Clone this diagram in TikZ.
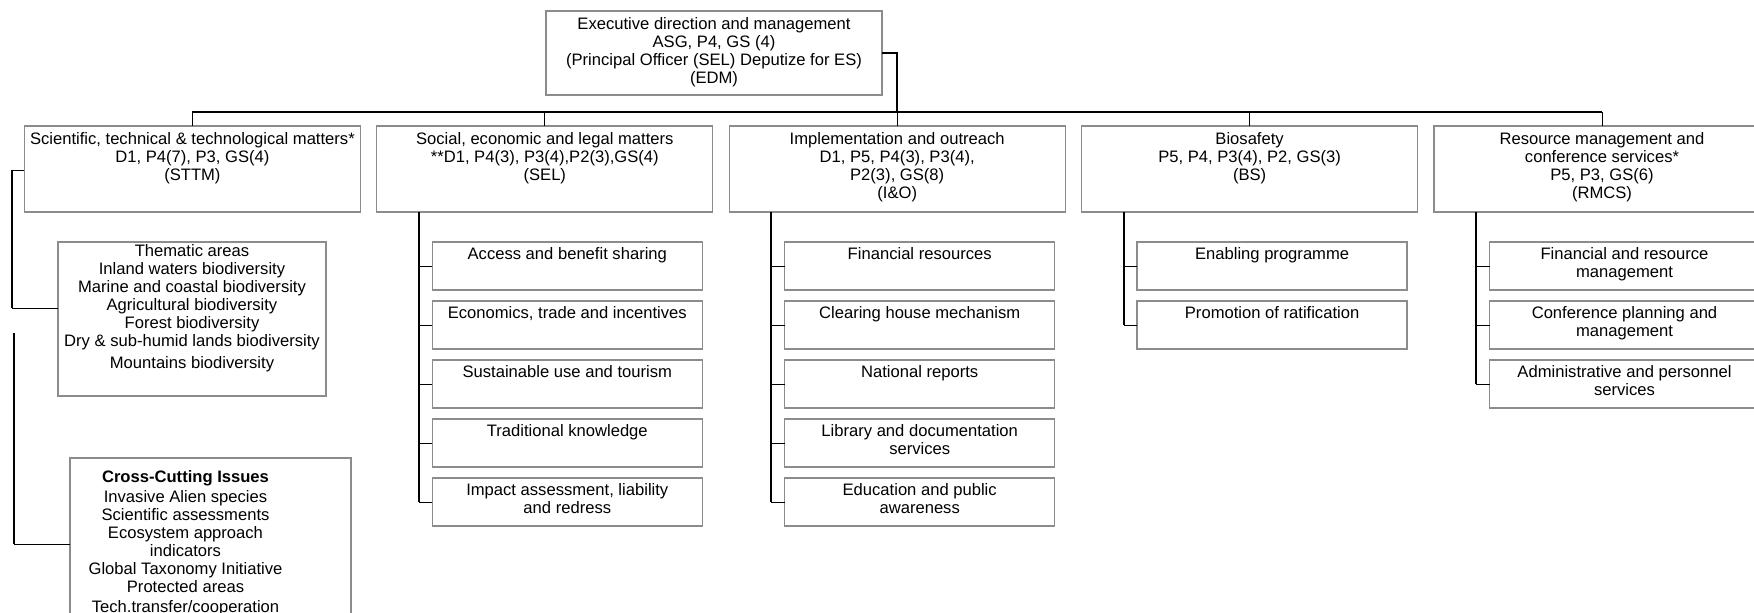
\documentclass[tikz,border=0pt]{standalone}
\usepackage{fontspec}
\setmainfont{Liberation Sans}
\definecolor{bordergray}{RGB}{140,140,140}
\newcommand{\boxtxt}[4]{\parbox[c][#2][t]{#1}{\centering\rule{0pt}{#3}#4\par}}
\newcommand{\lvtwo}[1]{\boxtxt{168pt}{43pt}{9.35pt}{#1}}
\newcommand{\subtxt}[1]{\boxtxt{135pt}{24pt}{8.95pt}{#1}}
\begin{document}
\begin{tikzpicture}[x=0.5pt,y=-0.5pt,
  font=\fontsize{8.3pt}{9pt}\selectfont,
  box/.style={draw=bordergray, line width=0.65pt, inner sep=0pt, outer sep=0pt, anchor=north west},
  busline/.style={line width=0.9pt, black},
  link/.style={line width=0.38pt, black},
  midline/.style={line width=0.6pt, black}]
\useasboundingbox (0,0) rectangle (1754,613);
\clip (0,0) rectangle (1754,613);

% top box
\node[box] (edm) at (546,11) {\boxtxt{168pt}{42pt}{9.25pt}{Executive direction and management\\ASG, P4, GS (4)\\(Principal Officer (SEL) Deputize for ES)\\(EDM)}};

% level-2 boxes
\node[box] (sttm) at (24.4,126) {\lvtwo{Scientific, technical \& technological matters*\\D1, P4(7), P3, GS(4)\\(STTM)}};
\node[box] (sel) at (376.8,126) {\lvtwo{Social, economic and legal matters\\\relax**D1, P4(3), P3(4),P2(3),GS(4)\\(SEL)}};
\node[box] (io) at (729.2,126) {\lvtwo{Implementation and outreach\\D1, P5, P4(3), P3(4),\\P2(3), GS(8)\\(I\&O)}};
\node[box] (bs) at (1081.6,126) {\lvtwo{Biosafety\\P5, P4, P3(4), P2, GS(3)\\(BS)}};
\node[box] (rmcs) at (1434,126) {\lvtwo{Resource management and\\conference services*\\P5, P3, GS(6)\\(RMCS)}};

% bus
\coordinate (busL) at (192.4,112);
\draw[busline] (edm.east) -| (io.north |- busL);
\draw[busline] (busL) -- (rmcs.north |- busL);
\foreach \n in {sttm,sel,io,bs,rmcs} \draw[link] (\n.north |- busL) -- (\n.north);

% STTM children
\node[box] (them) at (58,242) {\boxtxt{134pt}{77pt}{7.3pt}{Thematic areas\\Inland waters biodiversity\\Marine and coastal biodiversity\\Agricultural biodiversity\\Forest biodiversity\\Dry \& sub-humid lands biodiversity\\[1.8pt]Mountains biodiversity}};
\node[box] (cross) at (70,458) {\parbox[c][100pt][t]{140.5pt}{\centering\rightskip=25pt plus 1fil\rule{0pt}{12.25pt}\textbf{Cross-Cutting Issues}\\[1pt]Invasive Alien species\\Scientific assessments\\Ecosystem approach\\indicators\\Global Taxonomy Initiative\\Protected areas\\[0.8pt]Tech.transfer/cooperation\par}};

\coordinate (sttmL) at (12,170);
\coordinate (sttmC) at (12,308);
\draw[link] (sttm.west |- sttmL) -- (sttmL);
\draw[busline] (sttmL) -- (sttmC);
\draw[link] (sttmC) -- (them.west |- sttmC);
\coordinate (ccTop) at (14,333);
\coordinate (ccCorner) at (14,544);
\draw[midline] (ccTop) -- (ccCorner);
\draw[link] (ccCorner) -- (cross.west |- ccCorner);

% SEL children
\foreach \i/\t in {1/{Access and benefit sharing},2/{Economics, trade and incentives},3/{Sustainable use and tourism},4/{Traditional knowledge},5/{Impact assessment, liability\\and redress}}
  \node[box] (sel\i) at (432.3,{242+(\i-1)*59}) {\subtxt{\t}};
% I&O children
\foreach \i/\t in {1/{Financial resources},2/{Clearing house mechanism},3/{National reports},4/{Library and documentation\\services},5/{Education and public\\awareness}}
  \node[box] (io\i) at (784.7,{242+(\i-1)*59}) {\subtxt{\t}};
% BS children
\foreach \i/\t in {1/{Enabling programme},2/{Promotion of ratification}}
  \node[box] (bs\i) at (1137.1,{242+(\i-1)*59}) {\subtxt{\t}};
% RMCS children
\foreach \i/\t in {1/{Financial and resource\\management},2/{Conference planning and\\management},3/{Administrative and personnel\\services}}
  \node[box] (rmcs\i) at (1489.5,{242+(\i-1)*59}) {\subtxt{\t}};

% child connectors
\foreach \p/\k in {sel/5,io/5,bs/2,rmcs/3}{
  \coordinate (\p v) at ([xshift=21pt]\p.south west);
  \draw[busline] (\p v) -- (\p v |- \p\k.west);
  \foreach \j in {1,...,\k} \draw[link] (\p v |- \p\j.west) -- (\p\j.west);
}
\end{tikzpicture}
\end{document}
